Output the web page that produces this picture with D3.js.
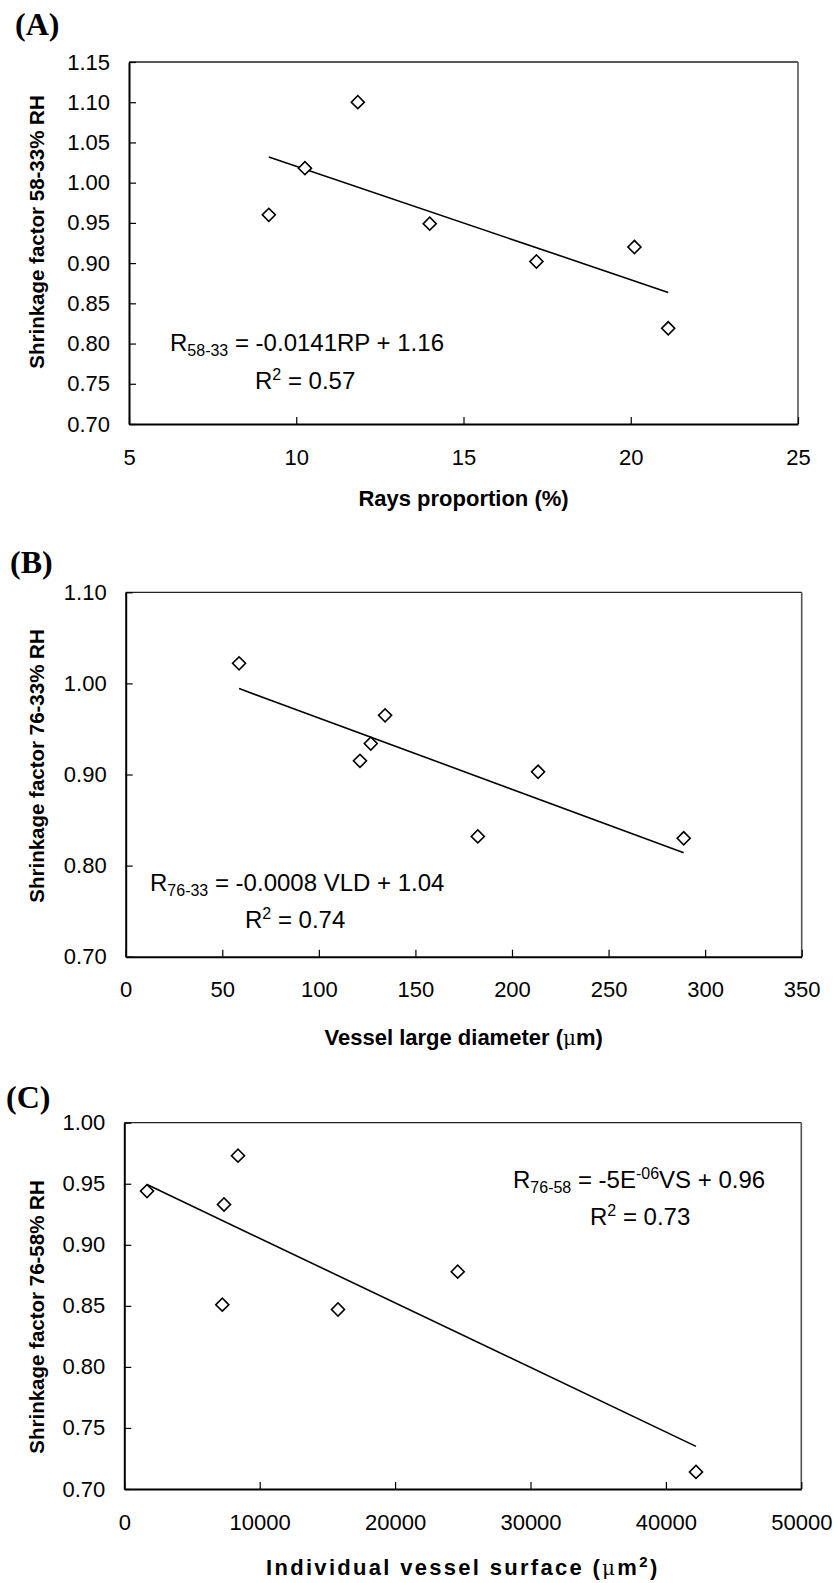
<!DOCTYPE html>
<html>
<head>
<meta charset="utf-8">
<script src="https://cdn.jsdelivr.net/npm/d3@7"></script>
<style>
  body { margin: 0; background: #fff; }
  text { font-family: Arial, "Liberation Sans", sans-serif; fill: #000; }
  .tick text { font-size: 22px; }
  .panel-label { font-family: "Times New Roman", "Liberation Serif", serif; font-weight: bold; font-size: 32px; }
  .ytitle, .xtitle { font-weight: bold; }
</style>
</head>
<body>
<div id="chart"></div>
<script>
// (A) rays proportion vs shrinkage factor 58-33% RH
const raysProportion = [9.18, 10.26, 11.84, 13.99, 17.18, 20.11, 21.12]
const shrink5833 = [0.960, 1.018, 1.100, 0.949, 0.902, 0.920, 0.819]
const xTicksA = [5, 10, 15, 20, 25]
const yTicksA = [0.70, 0.75, 0.80, 0.85, 0.90, 0.95, 1.00, 1.05, 1.10, 1.15]

// (B) vessel large diameter vs shrinkage factor 76-33% RH
const vesselDiameter = [58.7, 121.3, 126.9, 134.3, 182.3, 213.5, 288.9]
const shrink7633 = [1.022, 0.915, 0.934, 0.965, 0.832, 0.903, 0.830]
const xTicksB = [0, 50, 100, 150, 200, 250, 300, 350]
const yTicksB = [0.70, 0.80, 0.90, 1.00, 1.10]

// (C) individual vessel surface vs shrinkage factor 76-58% RH
const vesselSurface = [1677, 7238, 7363, 8397, 15783, 24623, 42223]
const shrink7658 = [0.944, 0.851, 0.933, 0.973, 0.847, 0.878, 0.714]
const xTicksC = [0, 10000, 20000, 30000, 40000, 50000]
const yTicksC = [0.70, 0.75, 0.80, 0.85, 0.90, 0.95, 1.00]

const width = 838
const height = 1583

const svg = d3.select("#chart").append("svg")
  .attr("width", width)
  .attr("height", height)

// least squares line through the points
function fit(xs, ys) {
  const mx = d3.mean(xs), my = d3.mean(ys)
  let sxy = 0, sxx = 0
  xs.forEach((x, i) => { sxy += (x - mx) * (ys[i] - my); sxx += (x - mx) * (x - mx) })
  const slope = sxy / sxx
  return { slope, intercept: my - slope * mx }
}

const panels = [
  {
    label: "(A)", labelPos: [15, 35],
    xs: raysProportion, ys: shrink5833, xTicks: xTicksA, yTicks: yTicksA,
    box: { left: 129, right: 798, top: 62, bottom: 424 },
    yFmt: d3.format(".2f"), xFmt: d3.format("d"),
    ytitle: "Shrinkage factor 58-33% RH", ytitleY: 232,
    xtitle: [{ t: "Rays proportion (%)" }], xtitleY: 506, xtitleSpacing: 0,
    eq: { x: 170, y: 351, parts: [{ t: "R" }, { t: "58-33", sub: true }, { t: " = -0.0141RP + 1.16" }] },
    r2: { x: 255, y: 389, parts: [{ t: "R" }, { t: "2", sup: true }, { t: " = 0.57" }] }
  },
  {
    label: "(B)", labelPos: [10, 573],
    xs: vesselDiameter, ys: shrink7633, xTicks: xTicksB, yTicks: yTicksB,
    box: { left: 125.7, right: 801.7, top: 592.3, bottom: 956.7 },
    yFmt: d3.format(".2f"), xFmt: d3.format("d"),
    ytitle: "Shrinkage factor 76-33% RH", ytitleY: 766,
    xtitle: [{ t: "Vessel large diameter (" }, { t: "\u03bc", mu: true }, { t: "m)" }], xtitleY: 1045, xtitleSpacing: 0,
    eq: { x: 150, y: 891, parts: [{ t: "R" }, { t: "76-33", sub: true }, { t: " = -0.0008 VLD + 1.04" }] },
    r2: { x: 245, y: 928, parts: [{ t: "R" }, { t: "2", sup: true }, { t: " = 0.74" }] }
  },
  {
    label: "(C)", labelPos: [6, 1108],
    xs: vesselSurface, ys: shrink7658, xTicks: xTicksC, yTicks: yTicksC,
    box: { left: 124.3, right: 801.3, top: 1122.7, bottom: 1489 },
    yFmt: d3.format(".2f"), xFmt: d3.format("d"),
    ytitle: "Shrinkage factor 76-58% RH", ytitleY: 1317,
    xtitle: [{ t: "Individual vessel surface (" }, { t: "\u03bc", mu: true }, { t: "m" }, { t: "2", sup: true }, { t: ")" }], xtitleY: 1575, xtitleSpacing: 2.3,
    eq: { x: 513, y: 1188, parts: [{ t: "R" }, { t: "76-58", sub: true }, { t: " = -5E" }, { t: "-06", sup: true }, { t: "VS + 0.96" }] },
    r2: { x: 590, y: 1225, parts: [{ t: "R" }, { t: "2", sup: true }, { t: " = 0.73" }] }
  }
]

function richText(sel, parts, size) {
  let shift = 0
  parts.forEach(p => {
    const ts = sel.append("tspan").text(p.t)
    let target = 0
    if (p.sub) target = Math.round(size * 0.22)
    if (p.sup) target = -Math.round(size * 0.36)
    ts.attr("dy", target - shift)
    shift = target
    if (p.sub || p.sup) ts.attr("font-size", Math.round(size * 0.68))
    if (p.mu) ts.attr("font-family", "'DejaVu Serif', serif").attr("font-weight", "normal").attr("font-size", size - 2)
  })
}

panels.forEach(p => {
  const b = p.box
  const x = d3.scaleLinear().domain(d3.extent(p.xTicks)).range([b.left, b.right])
  const y = d3.scaleLinear().domain(d3.extent(p.yTicks)).range([b.bottom, b.top])

  const g = svg.append("g")

  // frame top/right
  g.append("line").attr("x1", b.left).attr("x2", b.right).attr("y1", b.top).attr("y2", b.top)
    .attr("stroke", "#222").attr("stroke-width", 1.3)
  g.append("line").attr("x1", b.right).attr("x2", b.right).attr("y1", b.top).attr("y2", b.bottom)
    .attr("stroke", "#555").attr("stroke-width", 1.6)

  const xAxis = g.append("g").attr("transform", `translate(0,${b.bottom})`)
    .call(d3.axisBottom(x).tickValues(p.xTicks).tickFormat(p.xFmt)
      .tickSizeInner(-7).tickSizeOuter(0).tickPadding(25))
  const yAxis = g.append("g").attr("transform", `translate(${b.left},0)`)
    .call(d3.axisLeft(y).tickValues(p.yTicks).tickFormat(p.yFmt)
      .tickSizeInner(-7).tickSizeOuter(0).tickPadding(19))
  ;[xAxis, yAxis].forEach(a => {
    a.attr("font-family", null).attr("font-size", null)
    a.select(".domain").attr("stroke", "#000").attr("stroke-width", 2)
    a.selectAll(".tick line").attr("stroke", "#000").attr("stroke-width", 1.2)
  })

  // trend line over the data range
  const f = fit(p.xs, p.ys)
  const [x0, x1] = d3.extent(p.xs)
  g.append("path")
    .datum([[x0, f.slope * x0 + f.intercept], [x1, f.slope * x1 + f.intercept]])
    .attr("d", d3.line().x(d => x(d[0])).y(d => y(d[1])))
    .attr("fill", "none").attr("stroke", "#000").attr("stroke-width", 1.6)

  // diamonds
  const sym = d3.symbol().type(d3.symbolSquare).size(85)
  g.selectAll(".pt").data(p.xs.map((v, i) => [v, p.ys[i]])).enter()
    .append("path")
    .attr("class", "pt")
    .attr("d", sym)
    .attr("transform", d => `translate(${x(d[0])},${y(d[1])}) rotate(45)`)
    .attr("fill", "#fff").attr("stroke", "#000").attr("stroke-width", 1.6)

  // equation text
  ;[p.eq, p.r2].forEach(e => {
    const t = g.append("text").attr("x", e.x).attr("y", e.y).attr("font-size", 24)
    richText(t, e.parts, 24)
  })

  // titles
  g.append("text").attr("class", "ytitle")
    .attr("transform", `translate(44,${p.ytitleY}) rotate(-90)`)
    .attr("text-anchor", "middle").attr("font-size", 20.5)
    .text(p.ytitle)

  const xt = g.append("text").attr("class", "xtitle")
    .attr("x", (b.left + b.right) / 2).attr("y", p.xtitleY)
    .attr("text-anchor", "middle").attr("font-size", 22)
    .attr("letter-spacing", p.xtitleSpacing)
  richText(xt, p.xtitle, 22)

  svg.append("text").attr("class", "panel-label")
    .attr("x", p.labelPos[0]).attr("y", p.labelPos[1])
    .text(p.label)
})
</script>
</body>
</html>
